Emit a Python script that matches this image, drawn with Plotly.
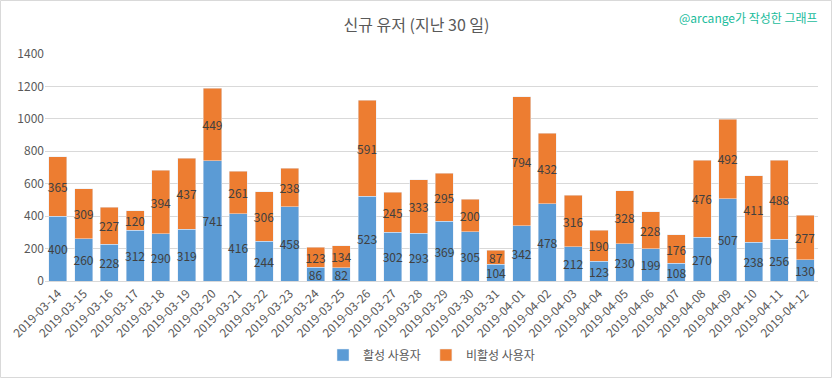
import plotly.graph_objects as go

dates = ["2019-03-14","2019-03-15","2019-03-16","2019-03-17","2019-03-18","2019-03-19","2019-03-20",
         "2019-03-21","2019-03-22","2019-03-23","2019-03-24","2019-03-25","2019-03-26","2019-03-27",
         "2019-03-28","2019-03-29","2019-03-30","2019-03-31","2019-04-01","2019-04-02","2019-04-03",
         "2019-04-04","2019-04-05","2019-04-06","2019-04-07","2019-04-08","2019-04-09","2019-04-10",
         "2019-04-11","2019-04-12"]
active = [400,260,228,312,290,319,741,416,244,458,86,82,523,302,293,369,305,104,342,478,212,123,230,199,108,270,507,238,256,130]
inactive = [365,309,227,120,394,437,449,261,306,238,123,134,591,245,333,295,200,87,794,432,316,190,328,228,176,476,492,411,488,277]

FONT = "Noto Sans CJK KR, Noto Sans, sans-serif"
W, H = 833, 379
ML, MR, MT, MB = 45, 15, 54, 98

fig = go.Figure()
fig.add_trace(go.Bar(x=dates, y=active, name="활성 사용자", marker_color="#5B9BD5",
                     text=active, textposition="inside", insidetextanchor="middle",
                     textangle=0, constraintext="none",
                     textfont=dict(color="#404040", size=12, family=FONT)))
fig.add_trace(go.Bar(x=dates, y=inactive, name="비활성 사용자", marker_color="#ED7D31",
                     text=inactive, textposition="inside", insidetextanchor="middle",
                     textangle=0, constraintext="none",
                     textfont=dict(color="#404040", size=12, family=FONT)))

pw = W - ML - MR
ph = H - MT - MB
fig.update_layout(
    width=W, height=H, barmode="stack", bargap=0.3,
    margin=dict(l=ML, r=MR, t=MT, b=MB, autoexpand=False),
    paper_bgcolor="white", plot_bgcolor="white",
    font=dict(family=FONT, color="#595959", size=11),
    title=dict(text="신규 유저 (지난 30 일)", x=0.5, xanchor="center", y=1 - 25/H, yanchor="middle",
               font=dict(size=16, color="#595959", family=FONT)),
    xaxis=dict(type="category", tickangle=-45, showline=True, linecolor="#D9D9D9",
               ticks="", automargin=False, tickfont=dict(size=12, color="#595959")),
    yaxis=dict(range=[0, 1400], dtick=200, showgrid=True, gridcolor="#D9D9D9",
               zeroline=False, ticks="", automargin=False, tickfont=dict(size=12, color="#595959")),
    legend=dict(orientation="h", x=0.5, xanchor="center", y=-(355 - (MT + ph)) / ph, yanchor="middle",
                font=dict(size=12, color="#595959"), traceorder="normal"),
    uniformtext=dict(mode=False),
    annotations=[dict(text="@arcange가 작성한 그래프", xref="paper", yref="paper",
                      x=1 + 2/pw, y=1 + (MT - 17)/ph, xanchor="right", yanchor="middle",
                      showarrow=False, font=dict(size=12, color="#1ABC9C", family=FONT))],
    shapes=[dict(type="rect", xref="paper", yref="paper",
                 x0=-(ML - 0.5)/pw, x1=1 + (MR - 1.5)/pw,
                 y0=-(MB - 1.5)/ph, y1=1 + (MT - 0.5)/ph,
                 line=dict(color="#D9D9D9", width=1), fillcolor="rgba(0,0,0,0)", layer="below")],
)

fig.write_html("out.html", config={"displayModeBar": False},
               post_script="document.body.style.margin='0';document.body.style.overflow='hidden';")
